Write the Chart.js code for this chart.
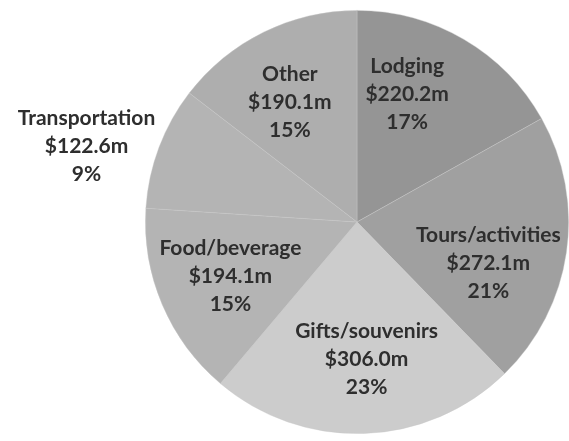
<!DOCTYPE html>
<html>
<head>
<meta charset="utf-8">
<script src="https://cdn.jsdelivr.net/npm/chart.js@4.4.1/dist/chart.umd.min.js"></script>
<style>
  html, body { margin: 0; padding: 0; background: #fff; }
  canvas { display: block; }
</style>
</head>
<body>
<canvas id="spend" width="569" height="441"></canvas>
<script>
// visitor spending by category, clockwise from 12 o'clock
const categories = ['Lodging', 'Tours/activities', 'Gifts/souvenirs', 'Food/beverage', 'Transportation', 'Other'];
const spendMillions = [220.2, 272.1, 306.0, 194.1, 122.6, 190.1];

// shading per slice: colour at the middle and at the rim
const innerShade = ['#959595', '#a0a0a0', '#cccccc', '#b4b4b4', '#b4b4b4', '#aeaeae'];
const outerShade = ['#a2a2a2', '#868686', '#b4b4b4', '#8a8a8a', '#a8a8a8', '#a5a5a5'];

// small angle tweaks (degrees) so labels sit where there is room
const labelNudge = [-9, 9, -2, 0, 0, -3];

const total = spendMillions.reduce((a, b) => a + b, 0);

function sliceFill(ctx) {
    const arc = ctx.element;
    if (!arc || !arc.x) return innerShade[ctx.dataIndex];
    const g = ctx.chart.ctx.createRadialGradient(arc.x, arc.y, 0, arc.x, arc.y, arc.outerRadius);
    g.addColorStop(0, innerShade[ctx.dataIndex]);
    g.addColorStop(1, outerShade[ctx.dataIndex]);
    return g;
}

const sliceLabels = {
    id: 'sliceLabels',
    afterDatasetsDraw(chart) {
        const ctx = chart.ctx;
        const meta = chart.getDatasetMeta(0);
        ctx.save();
        ctx.font = 'bold 21px Lato';
        ctx.fillStyle = '#2e2e2e';
        ctx.textBaseline = 'middle';
        ctx.textAlign = 'center';
        meta.data.forEach((arc, i) => {
            const p = arc.getProps(['x', 'y', 'startAngle', 'endAngle', 'outerRadius'], true);
            const value = spendMillions[i];
            const lines = [categories[i], '$' + value.toFixed(1) + 'm', Math.round(value / total * 100) + '%'];
            const mid = (p.startAngle + p.endAngle) / 2 + labelNudge[i] * Math.PI / 180;
            let x, y;
            if (value / total < 0.1) {
                // thin slice: label sits just outside the rim
                x = p.x + Math.cos(mid) * (p.outerRadius + 4);
                y = p.y + Math.sin(mid) * (p.outerRadius + 4);
                const w = Math.max(...lines.map(s => ctx.measureText(s).width));
                x -= w / 2;
            } else {
                x = p.x + Math.cos(mid) * p.outerRadius * 0.65;
                y = p.y + Math.sin(mid) * p.outerRadius * 0.65;
            }
            lines.forEach((s, k) => ctx.fillText(s, x, y + (k - 1) * 28));
        });
        ctx.restore();
    }
};

new Chart(document.getElementById('spend'), {
    type: 'pie',
    data: {
        labels: categories,
        datasets: [{
            data: spendMillions,
            backgroundColor: sliceFill,
            borderColor: 'rgba(200,200,200,0.5)',
            borderWidth: 0.8
        }]
    },
    options: {
        responsive: false,
        animation: false,
        layout: { padding: { left: 145, right: 0, top: 10, bottom: 7 } },
        plugins: {
            legend: { display: false },
            tooltip: { enabled: false }
        }
    },
    plugins: [sliceLabels]
});
</script>
</body>
</html>
